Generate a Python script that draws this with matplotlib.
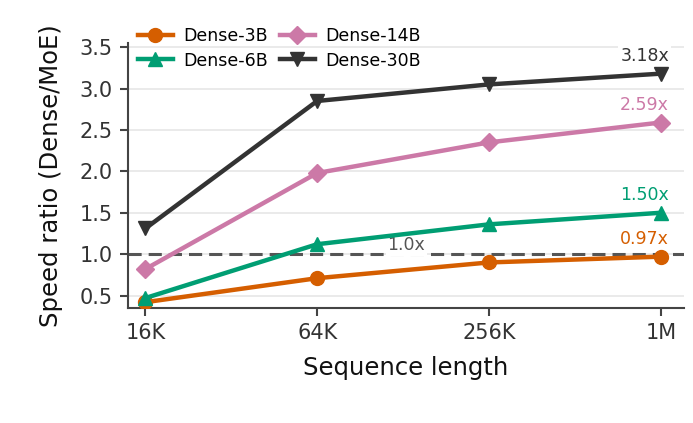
import matplotlib
matplotlib.use("Agg")
import matplotlib.pyplot as plt

seq_labels = ["16K", "64K", "256K", "1M"]
dense3 = [0.42, 0.71, 0.90, 0.97]
dense6 = [0.47, 1.12, 1.36, 1.50]
dense14 = [0.82, 1.98, 2.35, 2.59]
dense30 = [1.31, 2.85, 3.05, 3.18]
series_names = ["Dense-3B", "Dense-6B", "Dense-14B", "Dense-30B"]
end_labels = ["0.97x", "1.50x", "2.59x", "3.18x"]

colors = ["#D55E00", "#009E73", "#CC79A7", "#333333"]
markers = ["o", "^", "D", "v"]
msizes = [10, 10, 9, 10]

fig = plt.figure(figsize=(6.93, 4.23), dpi=100)
ax = fig.add_axes([0.1847, 0.2719, 0.802, 0.6264])
ax.set_axisbelow(True)
x = list(range(len(seq_labels)))
ax.grid(axis="y", color="#e6e6e6", linewidth=1.2)
ax.axhline(1.0, color="#555555", linestyle=(0, (4.3, 2.3)), linewidth=2.2, zorder=1.5)
ax.text(1.52, 1.0, "1.0x", color="#555555", fontsize=12.5, ha="center", va="bottom",
        bbox=dict(facecolor="white", edgecolor="none", pad=1.5), zorder=2)

data = [dense3, dense6, dense14, dense30]
for vals, name, c, m, ms, lab in zip(data, series_names, colors, markers, msizes, end_labels):
    ax.plot(x, vals, color=c, marker=m, markersize=ms, linewidth=3.2, label=name, zorder=3)
    ax.annotate(lab, (x[-1], vals[-1]), xytext=(6, 6), textcoords="offset points",
                ha="right", va="bottom", color=c, fontsize=12.5,
                bbox=dict(facecolor="white", edgecolor="none", pad=1.5), zorder=2)

ax.set_xticks(x)
ax.set_xticklabels(seq_labels)
ax.set_xlim(-0.101, 3.134)
ax.set_ylim(0.35, 3.55)
ax.set_yticks([0.5, 1.0, 1.5, 2.0, 2.5, 3.0, 3.5])
ax.tick_params(labelsize=15, colors="#444444", length=6, width=1.5, pad=5, labelcolor="#333333")
ax.set_xlabel("Sequence length", fontsize=17.5, color="#111111", labelpad=9)
ax.set_ylabel("Speed ratio (Dense/MoE)", fontsize=17.5, color="#111111", labelpad=12)
for s in ["top", "right"]:
    ax.spines[s].set_visible(False)
for s in ["left", "bottom"]:
    ax.spines[s].set_color("#444444")
    ax.spines[s].set_linewidth(1.5)

ax.legend(ncol=2, loc="upper left", bbox_to_anchor=(131 / 693, 1 - 20 / 423),
          bbox_transform=fig.transFigure, frameon=False,
          fontsize=12.5, handlelength=2.0, columnspacing=0.7, handletextpad=0.6,
          labelspacing=0.38, borderaxespad=0.0, borderpad=0.4)

fig.savefig("out.png", dpi=100)
